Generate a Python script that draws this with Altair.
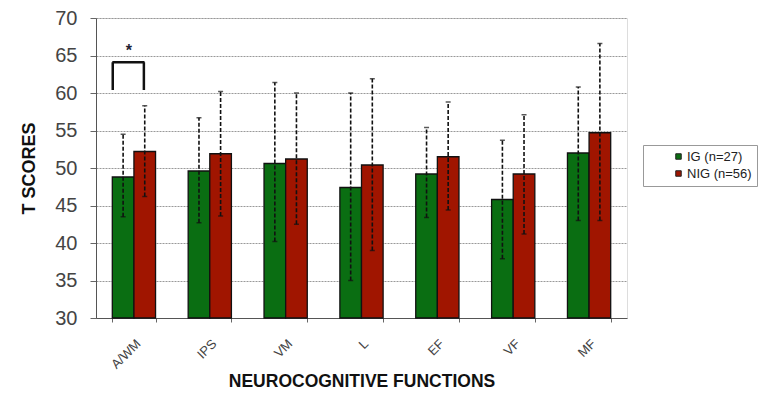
import altair as alt
import pandas as pd

cats = ["A/WM", "IPS", "VM", "L", "EF", "VF", "MF"]
groups = ["IG (n=27)", "NIG (n=56)"]
ig_mean = [48.8, 49.6, 50.6, 47.4, 49.2, 45.8, 52.0]
ig_lo = [43.5, 42.7, 40.2, 35.0, 43.4, 37.9, 43.0]
ig_hi = [54.5, 56.7, 61.4, 60.0, 55.4, 53.7, 60.8]
nig_mean = [52.2, 51.9, 51.2, 50.4, 51.5, 49.2, 54.7]
nig_lo = [46.2, 43.6, 42.5, 39.0, 44.4, 41.2, 43.0]
nig_hi = [58.3, 60.2, 60.0, 61.9, 58.8, 57.1, 66.6]
colors = ["#0a6e12", "#a01500"]
y_ticks = [30, 35, 40, 45, 50, 55, 60, 65, 70]

# significance bracket (A/WM)
br_cat = ["A/WM"]
br_top = [64.1]
br_bot = [60.4]
star_y = [65.6]

rows = []
for i, c in enumerate(cats):
    rows.append({"cat": c, "grp": groups[0], "m": ig_mean[i], "lo": ig_lo[i], "hi": ig_hi[i]})
    rows.append({"cat": c, "grp": groups[1], "m": nig_mean[i], "lo": nig_lo[i], "hi": nig_hi[i]})
df = pd.DataFrame(rows)
br = pd.DataFrame({"cat": br_cat, "top": br_top, "bot": br_bot, "star": star_y})

FONT = "Liberation Sans"

xsc = alt.Scale(domain=cats, paddingInner=0.43, paddingOuter=0.215)
x_axis = alt.Axis(title="NEUROCOGNITIVE FUNCTIONS", labelAngle=-45, labelFontSize=13,
                  labelColor="#444", labelFont=FONT, titleFont=FONT, titleFontSize=17.5,
                  titleFontWeight="bold", titleColor="#111", titlePadding=1,
                  tickBand="extent", tickSize=4, tickColor="#666", domainColor="#555",
                  labelPadding=15, grid=False)
ysc = alt.Scale(domain=[30, 70], nice=False, zero=False)
y_axis = alt.Axis(title="T SCORES", values=y_ticks, labelFontSize=20,
                  labelColor="#444", labelFont=FONT, titleFont=FONT, titleFontSize=18,
                  titleFontWeight="bold", titleColor="#111", titlePadding=16,
                  tickSize=6, tickColor="#666", domainColor="#555", labelPadding=13,
                  labelOverlap=False,
                  grid=True, gridColor="#999", gridDash=[2, 1], gridWidth=1)
xo = alt.XOffset("grp:N", scale=alt.Scale(domain=groups, paddingInner=0, paddingOuter=0))


def xa(bp=None):
    if bp is None:
        return alt.X("cat:N", sort=cats, scale=xsc, axis=x_axis)
    return alt.X("cat:N", sort=cats, scale=xsc, axis=x_axis, bandPosition=bp)


def ya(field):
    return alt.Y(field, scale=ysc, axis=y_axis)


base = alt.Chart(df)
bars = base.mark_bar(stroke="#111", strokeWidth=1.3).encode(
    x=xa(),
    xOffset=xo,
    y=ya("m:Q"),
    y2=alt.datum(30),
    color=alt.Color("grp:N", scale=alt.Scale(domain=groups, range=colors),
                    legend=alt.Legend(title=None, orient="none", legendX=547, legendY=127,
                                      symbolType="square", symbolSize=30, symbolStrokeColor="#222",
                                      symbolStrokeWidth=1, labelFont=FONT, labelFontSize=13,
                                      labelColor="#222", strokeColor="#999", padding=5,
                                      symbolOffset=24, labelOffset=2, rowPadding=3,
                                      labelLimit=200)),
)
err = base.mark_rule(color="#111", strokeWidth=1.6, strokeDash=[4, 2]).encode(
    x=xa(), xOffset=xo, y=ya("lo:Q"), y2="hi:Q")
cap_hi = base.mark_tick(color="#111", thickness=1.5, size=5, orient="horizontal").encode(
    x=xa(), xOffset=xo, y=ya("hi:Q"))
cap_lo = base.mark_tick(color="#111", thickness=1.5, size=5, orient="horizontal").encode(
    x=xa(), xOffset=xo, y=ya("lo:Q"))

bb = alt.Chart(br)
leg_l = bb.mark_rule(color="#111", strokeWidth=2.5).encode(
    x=xa(0.01), y=ya("top:Q"), y2="bot:Q")
leg_r = bb.mark_rule(color="#111", strokeWidth=2.5).encode(
    x=xa(0.73), y=ya("top:Q"), y2="bot:Q")
bar_h = bb.mark_rule(color="#111", strokeWidth=2.5).encode(
    x=xa(0.0), x2=alt.X2("cat:N", bandPosition=0.745),
    y=ya("top:Q"))
star = bb.mark_text(text="*", fontSize=16, font=FONT, fontWeight="bold", color="#223",
                    baseline="middle").encode(
    x=xa(0.38), y=ya("star:Q"))

chart = alt.layer(bars, err, cap_hi, cap_lo, leg_l, leg_r, bar_h, star).properties(
    width=531, height=300,
    autosize=alt.AutoSizeParams(type="none"),
    padding={"left": 88, "top": 10, "right": 136, "bottom": 74},
).configure_view(stroke="#999", strokeWidth=1).configure(background="white")

chart.save("out.html", embed_options={"renderer": "svg", "actions": False})
